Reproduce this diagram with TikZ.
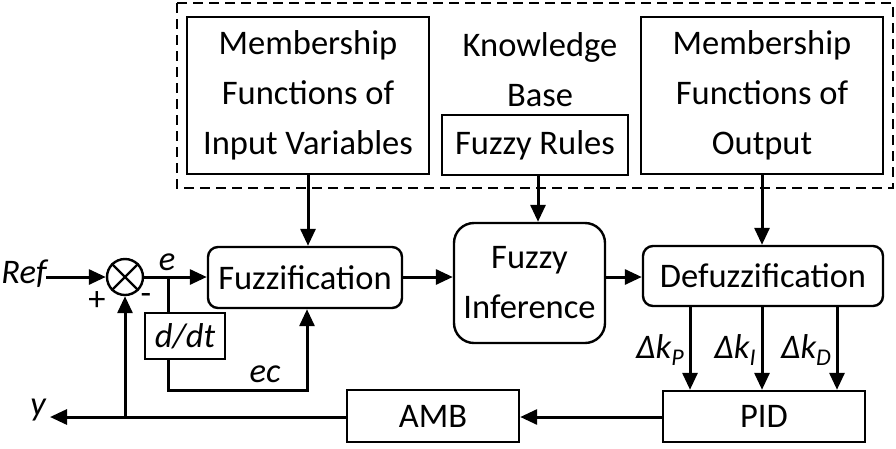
\documentclass[tikz,border=0pt]{standalone}
\usepackage{fontspec}
\setmainfont{Carlito}
\usetikzlibrary{arrows.meta}
\begin{document}
\begin{tikzpicture}[x=1pt,y=-1pt,
  every node/.style={font=\fontsize{34.5}{50}\selectfont, inner sep=0pt, align=center},
  sqbox/.style={draw, line width=2.4pt},
  rbox/.style={draw, line width=2.4pt, rounded corners=10pt},
  conn/.style={line width=3pt, -{Triangle[length=17pt,width=15pt]}},
  wire/.style={line width=3pt},
  lab/.style={font=\fontsize{34.5}{40}\selectfont\itshape}
]
\useasboundingbox (0,0) rectangle (896,448);
% dashed knowledge region
\draw[line width=2.4pt, dash pattern=on 10pt off 6pt] (177,3) rectangle (893,188);
% boxes
\node[sqbox, minimum width=242pt, minimum height=157pt] (mfin) at (308,95.5) {Membership\\Functions of\\Input Variables};
\node (kb) at (540,70) {Knowledge\\Base};
\node[sqbox, minimum width=186pt, minimum height=60pt] (rules) at (535,145) {Fuzzy Rules};
\node[sqbox, minimum width=242pt, minimum height=157pt] (mfout) at (762,95.5) {Membership\\Functions of\\Output};
\node[rbox, minimum width=194pt, minimum height=61pt] (fuzz) at (305,277.5) {Fuzzification};
\node[rbox, rounded corners=20pt, minimum width=151pt, minimum height=120pt] (infer) at (529.5,283) {Fuzzy\\Inference};
\node[rbox, minimum width=240pt, minimum height=60pt] (defuzz) at (763,276) {Defuzzification};
\node[sqbox, minimum width=202pt, minimum height=51pt] (pid) at (764,416.5) {PID};
\node[sqbox, minimum width=172pt, minimum height=52pt] (amb) at (433,416) {AMB};
\node[sqbox, minimum width=80pt, minimum height=46pt, font=\fontsize{34.5}{40}\selectfont\itshape] (ddt) at (185,336) {d/dt};
\node[draw, circle, line width=2.4pt, minimum size=36pt] (sum) at (125,277) {};
\draw[line width=2.4pt] (sum.north west) -- (sum.south east) (sum.north east) -- (sum.south west);
% labels
\node[lab] (ref) at (24,274) {Ref};
\node[lab] (elab) at (167,262) {e};
\node[lab] (eclab) at (265,374) {ec};
\node[lab] (ylab) at (38,410) {y};
\node (plus) at (97,301) {+};
\node (minus) at (146,299) {-};
% coordinates
\coordinate (refend) at (46,277);
\coordinate (br) at (168,277);
\coordinate (ecb) at (168,390);
\coordinate (yend) at (50,417);
\coordinate (fb) at (125,417);
% connectors
\draw[conn] (refend) -- (sum.west);
\draw[conn] (sum.east) -- (fuzz.west |- sum.east);
\draw[wire] (br) -- (br |- ddt.north);
\draw[conn] (br |- ddt.south) -- (ecb) -| (307,0 |- fuzz.south);
\draw[conn] (fuzz.east |- 0,277) -- (infer.west |- 0,277);
\draw[conn] (infer.east |- 0,277) -- (defuzz.west |- 0,277);
\draw[conn] (mfin.south) -- (mfin.south |- fuzz.north);
\draw[conn] (rules.south -| 538,0) -- (538,0 |- infer.north);
\draw[conn] (mfout.south) -- (mfout.south |- defuzz.north);
\draw[conn] (690,0 |- defuzz.south) -- (690,0 |- pid.north);
\draw[conn] (762,0 |- defuzz.south) -- (762,0 |- pid.north);
\draw[conn] (837,0 |- defuzz.south) -- (837,0 |- pid.north);
\node[lab] (dkp) at (660,350) {Δk\raisebox{-0.22em}{\fontsize{24}{24}\selectfont P}};
\node[lab] (dki) at (735,350) {Δk\raisebox{-0.22em}{\fontsize{24}{24}\selectfont I}};
\node[lab] (dkd) at (806,350) {Δk\raisebox{-0.22em}{\fontsize{24}{24}\selectfont D}};
\draw[conn] (pid.west |- 0,417) -- (amb.east |- 0,417);
\draw[conn] (amb.west |- 0,417) -- (yend);
\draw[conn] (fb) -- (sum.south);
\end{tikzpicture}
\end{document}
